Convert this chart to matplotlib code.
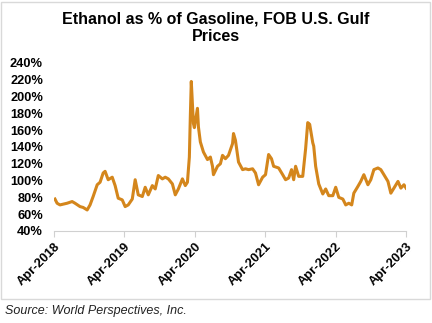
import matplotlib
matplotlib.use("Agg")
import matplotlib.pyplot as plt
import matplotlib.dates as mdates
from matplotlib.patches import Rectangle
import pandas as pd

# values, one date per value
dates = ["2018-04-06", "2018-04-17", "2018-05-02", "2018-06-08", "2018-07-04",
         "2018-07-19", "2018-08-14", "2018-08-30", "2018-09-20", "2018-10-05",
         "2018-10-21", "2018-11-11", "2018-11-26", "2018-12-12", "2018-12-22",
         "2019-01-07", "2019-01-28", "2019-02-12", "2019-02-28", "2019-03-21",
         "2019-04-05", "2019-04-21", "2019-05-12", "2019-05-27", "2019-06-12",
         "2019-07-03", "2019-07-18", "2019-08-03", "2019-08-24", "2019-09-08",
         "2019-09-24", "2019-10-15", "2019-10-30", "2019-11-15", "2019-12-06",
         "2019-12-21", "2020-01-06", "2020-01-27", "2020-02-11", "2020-02-22",
         "2020-03-03", "2020-03-08", "2020-03-13", "2020-03-24", "2020-03-29",
         "2020-04-14", "2020-04-19", "2020-04-29", "2020-05-15", "2020-06-05",
         "2020-06-20", "2020-07-01", "2020-07-06", "2020-07-27", "2020-08-11",
         "2020-08-22", "2020-09-06", "2020-09-22", "2020-10-13", "2020-10-18",
         "2020-10-28", "2020-11-13", "2020-12-04", "2020-12-19", "2021-01-04",
         "2021-01-25", "2021-02-09", "2021-02-25", "2021-03-18", "2021-04-02",
         "2021-04-18", "2021-05-03", "2021-05-14", "2021-06-09", "2021-06-30",
         "2021-07-15", "2021-07-31", "2021-08-15", "2021-08-26", "2021-09-05",
         "2021-09-21", "2021-10-12", "2021-10-27", "2021-11-07", "2021-11-17",
         "2021-12-03", "2021-12-08", "2021-12-18", "2022-01-03", "2022-01-24",
         "2022-02-08", "2022-02-24", "2022-03-17", "2022-04-01", "2022-04-17",
         "2022-05-08", "2022-05-23", "2022-06-08", "2022-06-23", "2022-07-04",
         "2022-07-25", "2022-08-09", "2022-08-25", "2022-09-15", "2022-09-30",
         "2022-10-16", "2022-11-06", "2022-11-21", "2022-12-07", "2022-12-28",
         "2023-01-12", "2023-01-28", "2023-02-18", "2023-03-05", "2023-03-21",
         "2023-04-01"]
values = [78, 73, 71, 73, 75, 73, 69, 68, 65, 71,
          81, 95, 98, 109, 111, 101, 104, 94, 79, 77,
          69, 71, 78, 101, 83, 81, 92, 83, 94, 90,
          106, 102, 104, 102, 96, 83, 90, 102, 94, 98,
          128, 176, 218, 168, 163, 186, 164, 146, 134, 125,
          128, 117, 107, 117, 120, 130, 126, 130, 144, 156,
          148, 122, 113, 114, 113, 114, 109, 95, 104, 107,
          131, 126, 117, 115, 107, 101, 103, 113, 101, 117,
          105, 105, 138, 169, 167, 145, 141, 117, 96, 84,
          90, 82, 82, 92, 80, 78, 71, 73, 71, 85,
          93, 99, 107, 95, 101, 113, 115, 113, 107, 99,
          85, 91, 99, 91, 95, 91]

yticks = [40, 60, 80, 100, 120, 140, 160, 180, 200, 220, 240]
xticks = ["2018-04-01", "2019-04-01", "2020-04-01", "2021-04-01",
          "2022-04-01", "2023-04-01"]

title = "Ethanol as % of Gasoline, FOB U.S. Gulf\nPrices"
source = "Source: World Perspectives, Inc."

plt.rcParams['font.family'] = ['Liberation Sans', 'DejaVu Sans']

fig = plt.figure(figsize=(4.32, 3.23), dpi=100)
ax = fig.add_axes([0.125, 0.285, 0.815, 0.52])

x = pd.to_datetime(dates)
ax.plot(x, values, color="#D4861C", lw=2.2, solid_joinstyle="round")

ax.set_ylim(40, 240)
ax.set_yticks(yticks)
ax.set_yticklabels([f"{v}%" for v in yticks], fontsize=9.2, fontweight="bold")
ax.set_xlim(pd.Timestamp(xticks[0]), pd.Timestamp(xticks[-1]))
ax.set_xticks(pd.to_datetime(xticks))
ax.xaxis.set_major_formatter(mdates.DateFormatter("%b-%Y"))
for lab in ax.get_xticklabels():
    lab.set_rotation(45)
    lab.set_ha("right")
    lab.set_rotation_mode("anchor")
    lab.set_fontsize(9.3)
    lab.set_fontweight("bold")

for s in ["top", "right", "left"]:
    ax.spines[s].set_visible(False)
ax.spines["bottom"].set_color("#D0D0D0")
ax.tick_params(axis="y", length=0, pad=8)
ax.tick_params(axis="x", length=4, color="#D0D0D0", pad=3)

fig.text(0.5, 0.915, title, ha="center", va="center", fontsize=11.5,
         fontweight="bold")
fig.text(0.012, 0.037, source, ha="left", va="center", fontsize=9,
         style="italic", color="#222222")

fig.patches.append(Rectangle((0.002, 0.075), 0.993, 0.92, transform=fig.transFigure,
                             fill=False, edgecolor="#D9D9D9", lw=1))

fig.savefig("out.png", dpi=100)
